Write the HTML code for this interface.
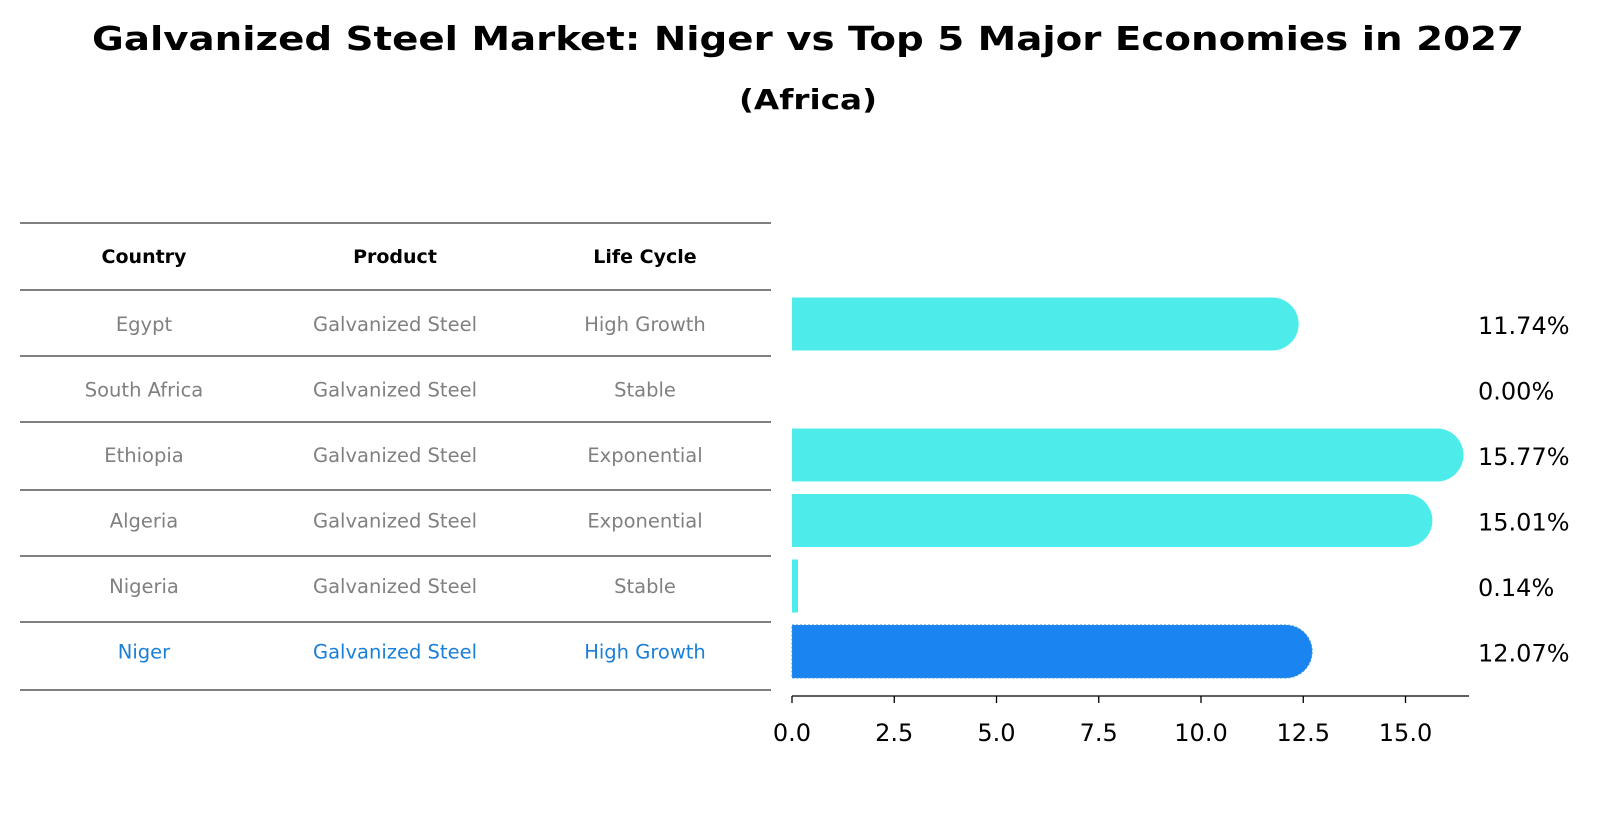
<!DOCTYPE html>
<html><head><meta charset="utf-8"><style>
body{margin:0;background:#fff;font-family:"DejaVu Sans","Liberation Sans",sans-serif;}
</style></head><body>
<svg width="1604" height="823" xmlns="http://www.w3.org/2000/svg" font-family="DejaVu Sans, Liberation Sans, sans-serif">
<text x="808" y="50" text-anchor="middle" font-size="33" font-weight="bold" textLength="1432" lengthAdjust="spacingAndGlyphs">Galvanized Steel Market: Niger vs Top 5 Major Economies in 2027</text>
<text x="808" y="109" text-anchor="middle" font-size="28" font-weight="bold" textLength="138" lengthAdjust="spacingAndGlyphs">(Africa)</text>
<g id="table"></g>
<g id="bars"></g>
</svg>
<script>
const countries=["Egypt","South Africa","Ethiopia","Algeria","Nigeria","Niger"];
const products=["Galvanized Steel","Galvanized Steel","Galvanized Steel","Galvanized Steel","Galvanized Steel","Galvanized Steel"];
const lifeCycles=["High Growth","Stable","Exponential","Exponential","Stable","High Growth"];
const values=[11.74,0.00,15.77,15.01,0.14,12.07];
const ticks=[0,2.5,5,7.5,10,12.5,15];
const NS="http://www.w3.org/2000/svg";
function mk(t,a,p){const e=document.createElementNS(NS,t);for(const k in a)e.setAttribute(k,a[k]);p.appendChild(e);return e;}
const tbl=document.getElementById('table'),bars=document.getElementById('bars');
const lineY=[223,290,356,422,490,556,622,690];
const colX=[144,395,645];
for(const y of lineY){const l=mk('line',{x1:20,x2:771,y1:y,y2:y,stroke:'#000','stroke-width':1},tbl);

}
["Country","Product","Life Cycle"].forEach((h,i)=>{const t=mk('text',{x:colX[i],y:263,'text-anchor':'middle','font-size':19,'font-weight':'bold'},tbl);t.textContent=h;

});
const xs=v=>792+v*40.9;
const yc=i=>324+i*65.5;
countries.forEach((c,i)=>{const hl=c==="Niger";const col=hl?'#1a7fd6':'#808080';
[c,products[i],lifeCycles[i]].forEach((s,j)=>{const t=mk('text',{x:colX[j],y:yc(i)+7,'text-anchor':'middle','font-size':19.5,fill:col},tbl);t.textContent=s;

});
const v=values[i],h=53,r=h/2,y0=yc(i)-r;
if(v>0){const w=xs(v)-792;let d;
if(v>1){d=`M792 ${y0} H${792+w} A${r} ${r} 0 0 1 ${792+w} ${y0+h} H792 Z`;}else{d=`M792 ${y0} h${Math.max(w,6)} v${h} h-${Math.max(w,6)} Z`;}
const p=mk('path',{d:d,fill:hl?'#1a85f0':'#4deceb'},bars);
if(hl){p.setAttribute('stroke','#3a90e0');p.setAttribute('stroke-dasharray','2 2');}

}
const t=mk('text',{x:1478,y:yc(i)+10,'font-size':24},bars);t.textContent=v.toFixed(2)+'%';

});
const ax=mk('line',{x1:792,x2:1469,y1:696,y2:696,stroke:'#000','stroke-width':1.3},bars);


ticks.forEach(t=>{const l=mk('line',{x1:xs(t),x2:xs(t),y1:696,y2:703,stroke:'#000','stroke-width':1.3},bars);


const tx=mk('text',{x:xs(t),y:741,'text-anchor':'middle','font-size':24},bars);tx.textContent=t.toFixed(1);

});
</script>
</body></html>
